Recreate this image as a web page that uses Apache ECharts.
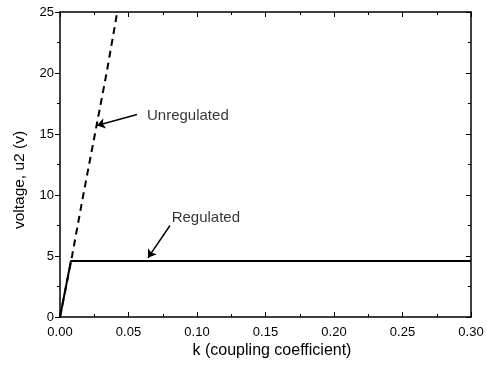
<!DOCTYPE html>
<html>
<head>
<meta charset="utf-8">
<script src="https://cdn.jsdelivr.net/npm/echarts@6/dist/echarts.min.js"></script>
<style>
  html, body { margin: 0; padding: 0; background: #fff; }
  #chart { width: 487px; height: 368px; }
</style>
</head>
<body>
<div id="chart"></div>
<script>
// data
const xTicks = [0, 0.05, 0.10, 0.15, 0.20, 0.25, 0.30];
const yTicks = [0, 5, 10, 15, 20, 25];

const regulatedK = [0, 0.008, 0.30];
const regulatedV = [0, 4.6, 4.6];

const unregulatedK = [0, 0.0088, 0.017, 0.0255, 0.034, 0.0418];
const unregulatedV = [0, 5, 10, 15, 20, 25];

// labels + arrows (data units)
const labelNames = ['Unregulated', 'Regulated'];
const labelK = [0.0635, 0.0815];
const labelV = [16.5, 8.1];
const arrowFrom = [[0.0562, 16.6], [0.0803, 7.5]];
const arrowTo = [[0.027, 15.7], [0.0642, 4.85]];

function pairs(xs, ys) {
  return xs.map((x, i) => [x, ys[i]]);
}

var chart = echarts.init(document.getElementById('chart'));

const font = 'Liberation Sans, Arial, sans-serif';
const axisCommon = {
  type: 'value',
  axisLine: { show: true, onZero: false, lineStyle: { color: '#000', width: 1.5 } },
  splitLine: { show: false },
  minorTick: { show: true, splitNumber: 2, length: 3, lineStyle: { color: '#000' } },
};

var option = {
  animation: false,
  backgroundColor: '#fff',
  grid: { left: 60, right: 16, top: 12, bottom: 51 },
  xAxis: [
    Object.assign({}, axisCommon, {
      min: 0, max: 0.3, interval: 0.05,
      axisTick: { inside: true, length: 5, lineStyle: { color: '#000' } },
      axisLabel: { color: '#000', fontSize: 13, fontFamily: font, margin: 9,
        formatter: v => v.toFixed(2) }
    }),
    Object.assign({}, axisCommon, {
      position: 'top', min: 0, max: 0.3, interval: 0.05,
      axisTick: { inside: true, length: 5, lineStyle: { color: '#000' } },
      axisLabel: { show: false }
    })
  ],
  yAxis: [
    Object.assign({}, axisCommon, {
      min: 0, max: 25, interval: 5,
      axisTick: { inside: false, length: 5, lineStyle: { color: '#000' } },
      axisLabel: { color: '#000', fontSize: 13, fontFamily: font, margin: 6 }
    }),
    Object.assign({}, axisCommon, {
      position: 'right', min: 0, max: 25, interval: 5,
      axisTick: { inside: true, length: 5, lineStyle: { color: '#000' } },
      axisLabel: { show: false }
    })
  ],
  graphic: [
    { type: 'text', x: 272, y: 343,
      style: { text: 'k (coupling coefficient)', font: '16px ' + font, fill: '#000', textAlign: 'center' } },
    { type: 'text', x: 12, y: 180, rotation: Math.PI / 2,
      style: { text: 'voltage, u2 (v)', font: '15.5px ' + font, fill: '#000', textAlign: 'center', textVerticalAlign: 'top' } }
  ],
  series: [
    {
      type: 'line', name: 'Unregulated', data: pairs(unregulatedK, unregulatedV),
      showSymbol: false, lineStyle: { color: '#000', width: 2, type: [7, 5] }
    },
    {
      type: 'line', name: 'Regulated', data: pairs(regulatedK, regulatedV),
      showSymbol: false, lineStyle: { color: '#000', width: 2 },
      markLine: {
        silent: true, symbol: ['none', 'arrow'], symbolSize: 8,
        lineStyle: { color: '#000', width: 1.5, type: 'solid' },
        label: { show: false },
        data: arrowFrom.map((f, i) => [{ coord: f }, { coord: arrowTo[i] }])
      }
    },
    {
      type: 'scatter', symbolSize: 0,
      data: labelNames.map((n, i) => ({ value: [labelK[i], labelV[i]], name: n })),
      label: { show: true, position: 'right', distance: 0, formatter: p => p.name,
        color: '#000', fontSize: 15, fontFamily: font }
    }
  ]
};

chart.setOption(option);
</script>
</body>
</html>
